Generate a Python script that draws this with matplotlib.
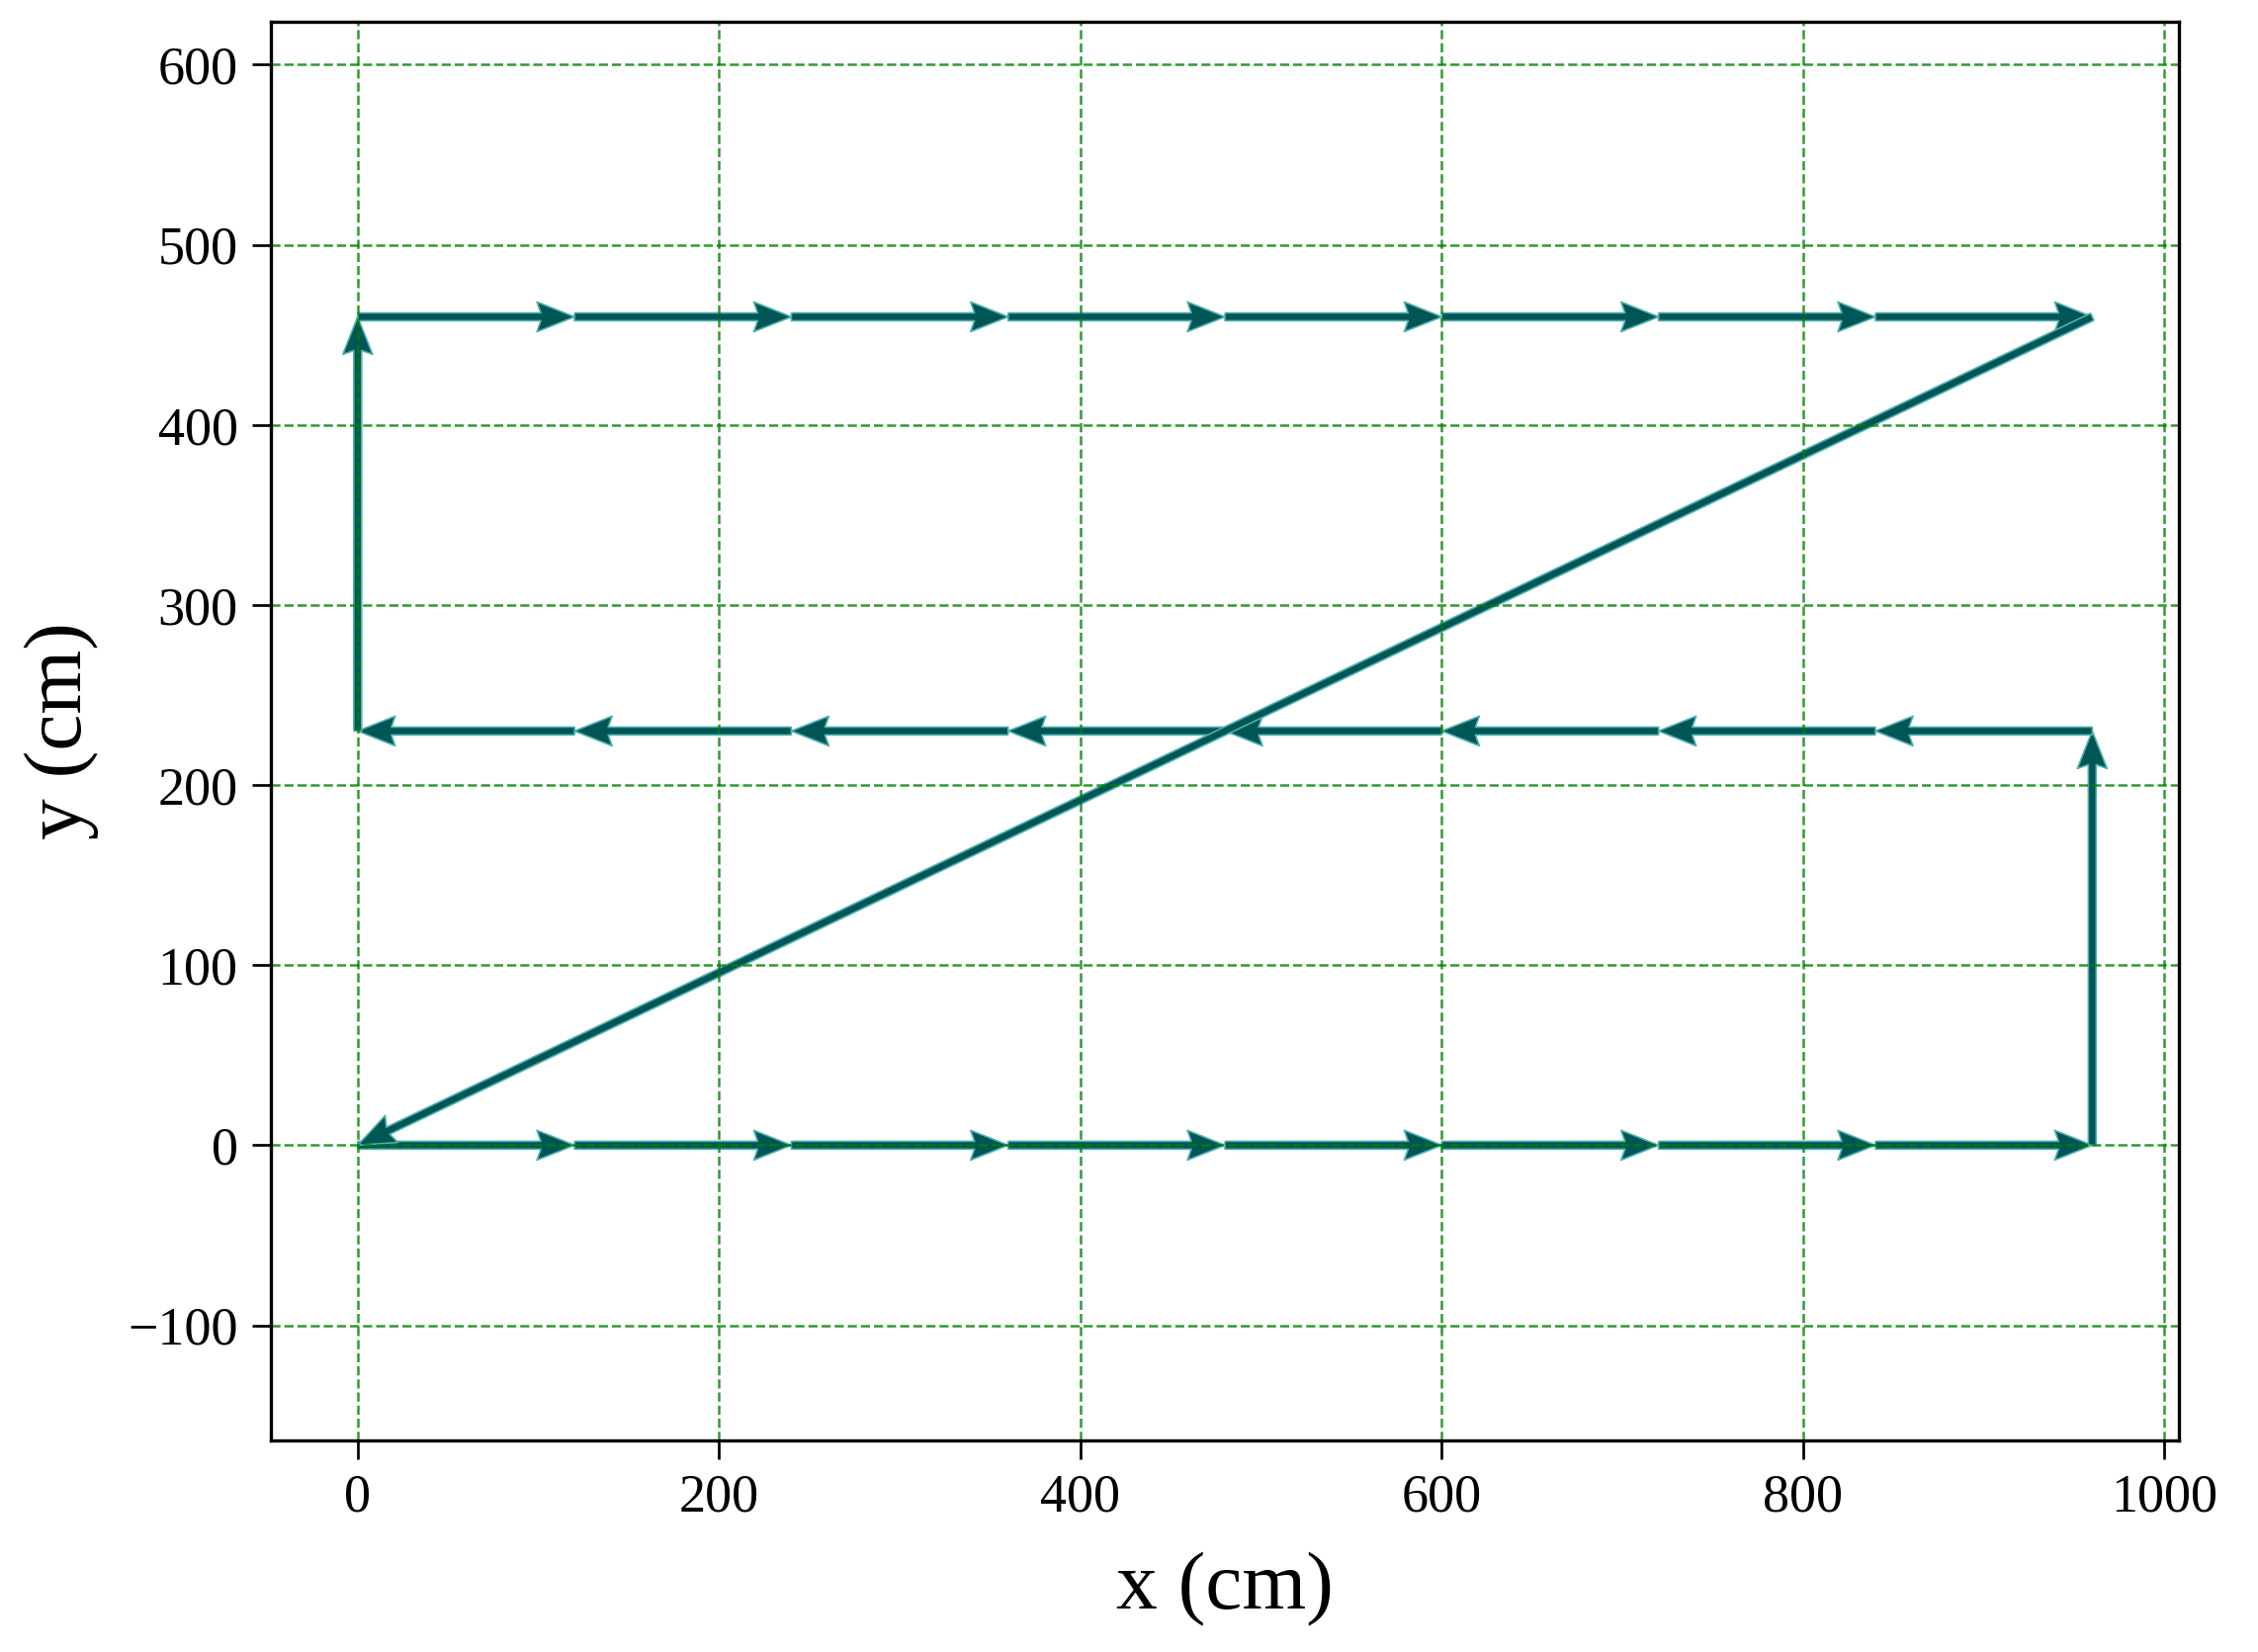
import numpy as np
import matplotlib
matplotlib.use("Agg")
import matplotlib.pyplot as plt

# waypoints of the scan path (cm)
path_x = [0, 120, 240, 360, 480, 600, 720, 840, 960,
          960, 840, 720, 600, 480, 360, 240, 120, 0,
          0, 120, 240, 360, 480, 600, 720, 840, 960,
          0]
path_y = [0, 0, 0, 0, 0, 0, 0, 0, 0,
          230, 230, 230, 230, 230, 230, 230, 230, 230,
          460, 460, 460, 460, 460, 460, 460, 460, 460,
          0]

x_ticks = [0, 200, 400, 600, 800, 1000]
y_ticks = [-100, 0, 100, 200, 300, 400, 500, 600]

plt.rcParams["font.family"] = ["Liberation Serif", "DejaVu Serif"]

px = np.array(path_x, dtype=float)
py = np.array(path_y, dtype=float)
u = np.diff(px)
v = np.diff(py)

fig = plt.figure(figsize=(2284 / 300, 1671 / 300), dpi=300)
ax = fig.add_axes([0.12, 0.128, 0.845, 0.859])

ax.quiver(px[:-1], py[:-1], u, v, angles="xy", scale_units="xy", scale=1,
          width=0.0041, headwidth=3.8, headlength=4.8, headaxislength=4.3,
          facecolor="#005555", edgecolor="#4fb0b0", linewidth=0.4)

ax.set_xlim(-48, 1008)
ax.set_ylim(-164, 624)
ax.set_xticks(x_ticks)
ax.set_yticks(y_ticks)
ax.grid(True, color="green", linestyle="--", linewidth=0.6, alpha=0.8)

ax.tick_params(direction="out", length=4.5, width=0.65, labelsize=13)
for s in ax.spines.values():
    s.set_linewidth(0.8)

ax.set_xlabel("x (cm)", fontsize=20, labelpad=7)
ax.set_ylabel("y (cm)", fontsize=20, labelpad=7)

fig.savefig("out.png", dpi=300)
